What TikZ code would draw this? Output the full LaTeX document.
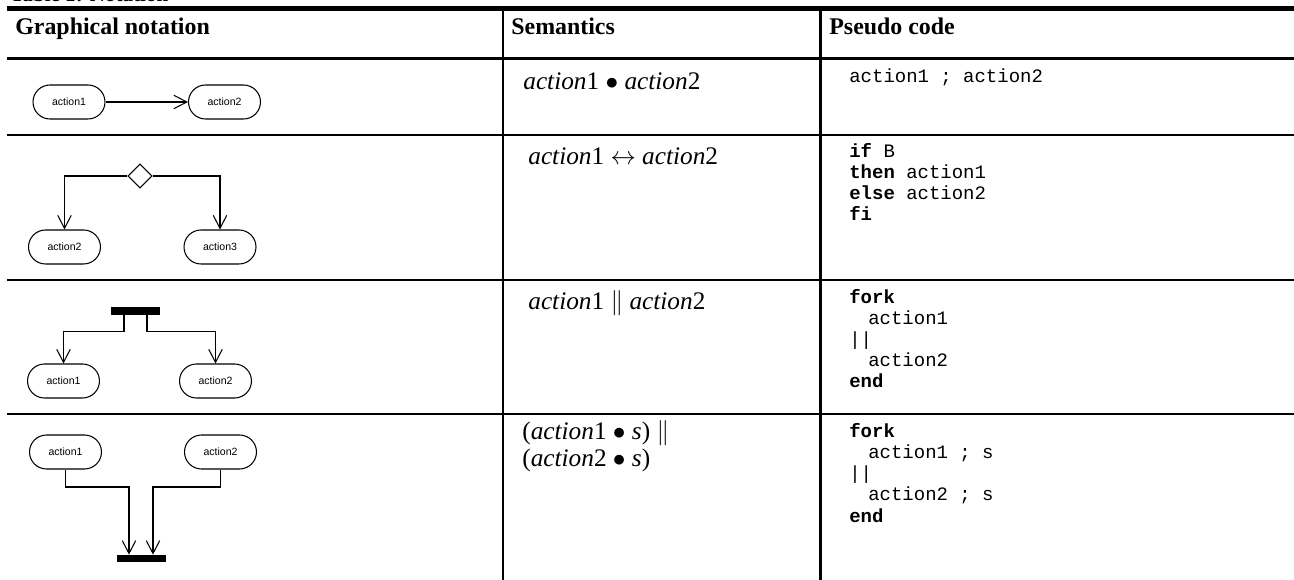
\documentclass[tikz,border=0pt]{standalone}
\usepackage{fontspec}
\setmainfont{Liberation Serif}
\setmonofont{Liberation Mono}
\newfontfamily\arial{Liberation Sans}
\usetikzlibrary{arrows.meta,positioning,shapes.geometric}
\tikzset{
  etat/.style={draw,rounded corners=0.34cm,minimum width=1.44cm,minimum height=0.68cm,
               inner sep=0pt,line width=0.6pt,font=\arial\fontsize{6}{7}\selectfont},
  fleche/.style={-{Straight Barb[length=2.6mm,width=2.7mm]},line width=0.6pt},
  barre/.style={fill=black,minimum width=0.98cm,minimum height=0.16cm,inner sep=0pt},
  losange/.style={draw,diamond,minimum size=0.48cm,inner sep=0pt,line width=0.6pt},
  filet/.style={line width=1.4pt},
  entete/.style={anchor=base west,inner sep=0pt,font=\bfseries\fontsize{13.6}{16}\selectfont},
  semant/.style={anchor=base west,align=left,inner sep=0pt,font=\fontsize{14.4}{14.8}\selectfont},
  pseudo/.style={anchor=base west,align=left,inner sep=0pt,font=\ttfamily\fontsize{10.8}{12.05}\selectfont},
}
\newcommand{\act}[1]{{\itshape action}#1}

\begin{document}
\begin{tikzpicture}[x=0.02cm,y=-0.02cm]
  \useasboundingbox (0,0) rectangle (1294,580);
  % titre (coupe en haut)
  \node[anchor=base west,inner sep=0pt,font=\bfseries\fontsize{12}{14}\selectfont] (titre) at (10,1.5) {Table 1: Notation};
  % filets du tableau
  \draw[line width=2.8pt] (7,8.5) -- (1294,8.5);
  \draw[line width=1.7pt] (7,58.5) -- (1294,58.5);
  \draw[filet] (7,135) -- (1294,135);
  \draw[filet] (7,280) -- (1294,280);
  \draw[filet] (7,414) -- (1294,414);
  \draw[filet] (503,11) -- (503,580);
  \draw[filet] (820.5,11) -- (820.5,580);
  \node[entete] (h1) at (15,35) {Graphical notation};
  \node[entete] (h2) at (511,35) {Semantics};
  \node[entete] (h3) at (829,35) {Pseudo code};

  % ligne 1 : sequence
  \node[etat] (a1) at (69,102) {action1};
  \node[etat] (a2) at (224.5,102) {action2};
  \draw[fleche] (a1) -- (a2);

  % ligne 2 : choix
  \node[losange] (choix) at (140,176) {};
  \node[etat] (b2) at (64.5,247) {action2};
  \node[etat] (b3) at (220,247) {action3};
  \draw[fleche] (choix.west) -| (b2.north);
  \draw[fleche] (choix.east) -| (b3.north);

  % ligne 3 : fourche
  \node[barre] (fourche) at (135.5,311) {};
  \node[etat] (c1) at (63.5,381) {action1};
  \node[etat] (c2) at (215.5,381) {action2};
  \coordinate (f1) at (124,331.5);
  \coordinate (f2) at (147,331.5);
  \draw[fleche] (fourche.south -| f1) -- (f1) -| (c1.north);
  \draw[fleche] (fourche.south -| f2) -- (f2) -| (c2.north);

  % ligne 4 : jonction
  \node[etat] (d1) at (65.5,452) {action1};
  \node[etat] (d2) at (220.5,452) {action2};
  \node[barre,minimum height=0.14cm] (jonction) at (141.5,558.5) {};
  \coordinate (j1) at (129,487);
  \coordinate (j2) at (153,487);
  \draw[fleche] (d1.south) |- (j1) -- (j1 |- jonction.north);
  \draw[fleche] (d2.south) |- (j2) -- (j2 |- jonction.north);

  % semantique (base = ligne du bas)
  \node[semant] (s1) at (523,90) {\act{1} $\bullet$ \act{2}};
  \node[semant] (s2) at (528,165) {\act{1} $\leftrightarrow$ \act{2}};
  \node[semant] (s3) at (528,310) {\act{1} $\Vert$ \act{2}};
  \node[semant] (s4) at (522,466) {(\act{1} $\bullet$ \textit{s}) $\Vert$\\(\act{2} $\bullet$ \textit{s})};

  % pseudo code (base = ligne du bas)
  \node[pseudo] (p1) at (849,83) {action1 ; action2};
  \node[pseudo] (p2) at (849,221) {\textbf{if} B\\\textbf{then} action1\\\textbf{else} action2\\\textbf{fi}};
  \node[pseudo] (p3) at (849,388) {\textbf{fork}\\\hspace*{1em}action1\\\textbar\textbar\\\hspace*{1em}action2\\\textbf{end}};
  \node[pseudo] (p4) at (849,522) {\textbf{fork}\\\hspace*{1em}action1 ; s\\\textbar\textbar\\\hspace*{1em}action2 ; s\\\textbf{end}};
\end{tikzpicture}
\end{document}
